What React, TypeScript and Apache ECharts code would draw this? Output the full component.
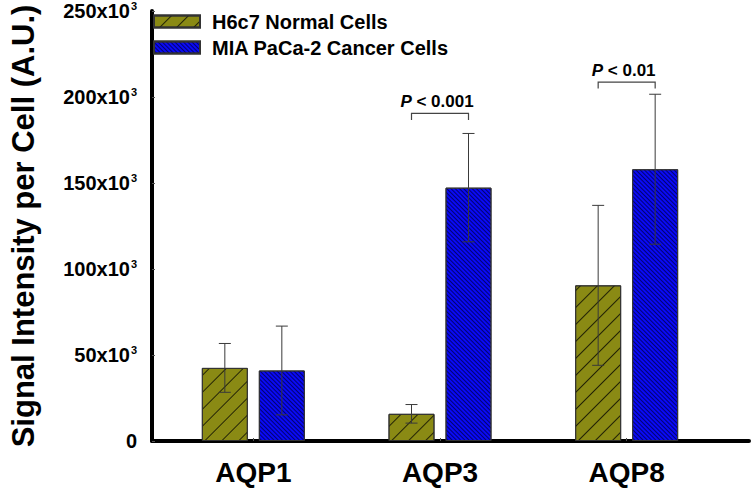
import React, { useEffect, useRef } from "react";
import * as echarts from "echarts";

const categories = ["AQP1", "AQP3", "AQP8"];
const seriesNames = ["H6c7 Normal Cells", "MIA PaCa-2 Cancer Cells"];
const normalValues = [42500, 15800, 90500];
const normalErrors = [14200, 5400, 46500];
const cancerValues = [41000, 147300, 158000];
const cancerErrors = [25800, 31500, 43600];
const yTicks = [0, 50000, 100000, 150000, 200000, 250000];
const pLabels = ["P < 0.001", "P < 0.01"];
const pCategoryIndex = [1, 2];
const pBracketTop = [190500, 208700];
const pBracketFoot = [186600, 205000];

const FONT = "'Liberation Sans', Arial, sans-serif";
const BAR_W = 46;
const BAR_GAP = 11;
const HALF = (BAR_W + BAR_GAP) / 2;

export default function App() {
  const ref = useRef<HTMLDivElement>(null);
  useEffect(() => {
    if (!ref.current) return;
    const chart = echarts.init(ref.current, undefined, { renderer: "svg" });
    const errData = (vals: number[], errs: number[]) =>
      vals.map((v, i) => [i, v - errs[i], v + errs[i]]);
    const errSeries = (data: number[][], off: number) => ({
      type: "custom",
      xAxisIndex: 0,
      yAxisIndex: 0,
      z: 5,
      silent: true,
      encode: { x: 0, y: [1, 2] },
      data,
      renderItem: (params: any, api: any) => {
        const xi = api.value(0);
        const lo = api.coord([xi, api.value(1)]);
        const hi = api.coord([xi, api.value(2)]);
        const x = lo[0] + off;
        const st = { stroke: "#3a3a3a", lineWidth: 1 };
        return {
          type: "group",
          children: [
            { type: "line", shape: { x1: x, y1: lo[1], x2: x, y2: hi[1] }, style: st },
            { type: "line", shape: { x1: x - 6, y1: hi[1], x2: x + 6, y2: hi[1] }, style: st },
            { type: "line", shape: { x1: x - 6, y1: lo[1], x2: x + 6, y2: lo[1] }, style: st },
          ],
        };
      },
    });
    const bracketData = pLabels.map((l, i) => [pCategoryIndex[i], pBracketTop[i], pBracketFoot[i], i]);
    const yMax = yTicks[yTicks.length - 1];
    const option: any = {
      animation: false,
      textStyle: { fontFamily: FONT },
      grid: [
        { left: 160, right: 32, top: 11, bottom: 47 },
        { left: 133, right: 3, top: 11, bottom: 47 },
      ],
      legend: {
        data: seriesNames,
        left: 148,
        top: 6,
        orient: "vertical",
        icon: "rect",
        itemWidth: 46,
        itemHeight: 12,
        itemGap: 5,
        selectedMode: false,
        textStyle: { fontSize: 20, fontWeight: "bold", color: "#000", fontFamily: FONT, lineHeight: 21, padding: [0, 0, 0, 7] },
      },
      xAxis: [
        {
          type: "category",
          gridIndex: 0,
          data: categories,
          axisLine: { show: false },
          axisTick: { show: true, alignWithLabel: true, inside: true, length: 3, lineStyle: { color: "#555" } },
          axisLabel: { fontSize: 28, fontWeight: "bold", color: "#000", margin: 17, fontFamily: FONT },
        },
        {
          type: "value",
          gridIndex: 1,
          min: 0,
          max: 1,
          axisLine: { show: true, lineStyle: { color: "#000", width: 4 } },
          axisTick: { show: false },
          axisLabel: { show: false },
          splitLine: { show: false },
        },
      ],
      yAxis: [
        { type: "value", gridIndex: 0, min: 0, max: yMax, interval: 50000, show: false },
        {
          type: "value",
          gridIndex: 1,
          min: 0,
          max: yMax,
          interval: 50000,
          name: "Signal Intensity per Cell (A.U.)",
          nameLocation: "middle",
          nameRotate: 90,
          nameGap: 113,
          nameTextStyle: { fontSize: 31, fontWeight: "bold", color: "#000", fontFamily: FONT },
          axisLine: { show: true, lineStyle: { color: "#000", width: 4 } },
          axisTick: { show: true, inside: true, length: 3, lineStyle: { color: "#555" } },
          splitLine: { show: false },
          axisLabel: {
            margin: 15,
            color: "#000",
            formatter: (v: number) => (v === 0 ? "{a|0}" : `{a|${v / 1000}x10}{s|3}`),
            rich: {
              a: { fontSize: 20, fontWeight: "bold", color: "#000", fontFamily: FONT },
              s: { fontSize: 11, fontWeight: "bold", color: "#000", fontFamily: FONT, padding: [0, 0, 10, 1] },
            },
          },
        },
      ],
      series: [
        {
          name: seriesNames[0],
          type: "bar",
          xAxisIndex: 0,
          yAxisIndex: 0,
          data: normalValues,
          barWidth: BAR_W,
          barGap: `${(BAR_GAP / BAR_W) * 100}%`,
          itemStyle: {
            color: "#8a8a14",
            borderColor: "#333",
            borderWidth: 1,
            decal: {
              symbol: "rect",
              symbolSize: 1,
              dashArrayX: [1, 0],
              dashArrayY: [1, 11],
              rotation: -Math.PI / 4,
              color: "rgba(0,0,0,0.75)",
            },
          },
        },
        {
          name: seriesNames[1],
          type: "bar",
          xAxisIndex: 0,
          yAxisIndex: 0,
          data: cancerValues,
          barWidth: BAR_W,
          itemStyle: {
            color: "#0a0af5",
            borderColor: "#333",
            borderWidth: 1,
            decal: {
              symbol: "rect",
              symbolSize: 1,
              dashArrayX: [1, 0],
              dashArrayY: [1, 2],
              rotation: Math.PI / 4,
              color: "rgba(0,0,90,0.85)",
            },
          },
        },
        errSeries(errData(normalValues, normalErrors), -HALF),
        errSeries(errData(cancerValues, cancerErrors), HALF),
        {
          type: "custom",
          xAxisIndex: 0,
          yAxisIndex: 0,
          z: 6,
          silent: true,
          encode: { x: 0, y: [1, 2] },
          data: bracketData,
          renderItem: (params: any, api: any) => {
            const xi = api.value(0);
            const top = api.coord([xi, api.value(1)]);
            const foot = api.coord([xi, api.value(2)]);
            const label = pLabels[params.dataIndex];
            const xl = top[0] - HALF;
            const xr = top[0] + HALF;
            return {
              type: "group",
              children: [
                {
                  type: "polyline",
                  shape: { points: [[xl, foot[1]], [xl, top[1]], [xr, top[1]], [xr, foot[1]]] },
                  style: { stroke: "#444", lineWidth: 1.2, fill: null },
                },
                {
                  type: "text",
                  x: top[0] - 3,
                  y: top[1] - 3,
                  style: {
                    text: "{i|P}" + label.slice(1),
                    align: "center",
                    verticalAlign: "bottom",
                    font: `bold 17px ${FONT}`,
                    fill: "#000",
                    rich: { i: { fontStyle: "italic", fontWeight: "bold", fontSize: 17, fontFamily: FONT } },
                  },
                },
              ],
            };
          },
        },
      ],
    };
    chart.setOption(option);
    return () => chart.dispose();
  }, []);
  return <div ref={ref} style={{ width: 752, height: 488, position: "absolute", left: 0, top: 0, background: "#fff" }} />;
}
